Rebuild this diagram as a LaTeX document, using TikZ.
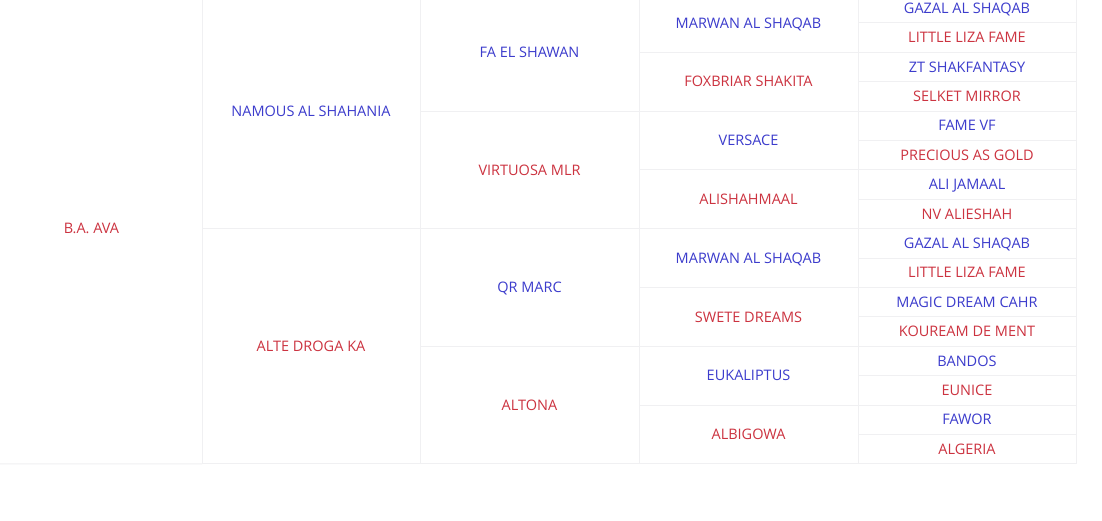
\documentclass[tikz,border=0pt]{standalone}
\usepackage{fontspec}
\setmainfont{Open Sans}
\definecolor{sire}{HTML}{3C3CCC}
\definecolor{dam}{HTML}{CC3340}
\definecolor{gridline}{HTML}{F0F0F2}
\begin{document}
\begin{tikzpicture}[x=1pt,y=-1pt,
  cell/.style={draw=gridline,line width=1pt,rectangle,inner sep=0pt,outer sep=0pt,
    font=\fontsize{14.5}{17}\selectfont,text height=10.4pt,text depth=0pt,anchor=north west},
  c2/.style={cell,minimum width=218pt,minimum height=235.2pt},
  c3/.style={cell,minimum width=219pt,minimum height=117.6pt},
  c4/.style={cell,minimum width=219pt,minimum height=58.8pt},
  c5/.style={cell,minimum width=218pt,minimum height=29.4pt},
  m/.style={text=sire},
  f/.style={text=dam}]
\useasboundingbox[fill=white] (0,0) rectangle (1102,520);
\clip (0,0) rectangle (1102,520);
\begin{scope}[yshift=-0.8pt]
% generation 1
\node[cell,draw=none,minimum width=183pt,minimum height=470.4pt,f] (g1) at (0,-7.4) {B.A. AVA};
\coordinate (g1bl) at (0,463);
% generation 2
\node[c2,m] (g2a) at (202,-7.4) {NAMOUS AL SHAHANIA};
\node[c2,f] (g2b) at (202,227.8) {ALTE DROGA KA};
\draw[gridline,line width=1pt] (g1bl) -- (g2b.south west);
% generation 3
\node[c3,m] (g3a) at (420,-7.4) {FA EL SHAWAN};
\node[c3,f] (g3b) at (420,110.2) {VIRTUOSA MLR};
\node[c3,m] (g3c) at (420,227.8) {QR MARC};
\node[c3,f] (g3d) at (420,345.4) {ALTONA};
% generation 4
\node[c4,m] (g4a) at (639,-7.4) {MARWAN AL SHAQAB};
\node[c4,f] (g4b) at (639,51.4) {FOXBRIAR SHAKITA};
\node[c4,m] (g4c) at (639,110.2) {VERSACE};
\node[c4,f] (g4d) at (639,169.0) {ALISHAHMAAL};
\node[c4,m] (g4e) at (639,227.8) {MARWAN AL SHAQAB};
\node[c4,f] (g4f) at (639,286.6) {SWETE DREAMS};
\node[c4,m] (g4g) at (639,345.4) {EUKALIPTUS};
\node[c4,f] (g4h) at (639,404.2) {ALBIGOWA};
% generation 5
\node[c5,m] (g5a) at (858,-7.4) {GAZAL AL SHAQAB};
\node[c5,f] (g5b) at (858,22.0) {LITTLE LIZA FAME};
\node[c5,m] (g5c) at (858,51.4) {ZT SHAKFANTASY};
\node[c5,f] (g5d) at (858,80.8) {SELKET MIRROR};
\node[c5,m] (g5e) at (858,110.2) {FAME VF};
\node[c5,f] (g5f) at (858,139.6) {PRECIOUS AS GOLD};
\node[c5,m] (g5g) at (858,169.0) {ALI JAMAAL};
\node[c5,f] (g5h) at (858,198.4) {NV ALIESHAH};
\node[c5,m] (g5i) at (858,227.8) {GAZAL AL SHAQAB};
\node[c5,f] (g5j) at (858,257.2) {LITTLE LIZA FAME};
\node[c5,m] (g5k) at (858,286.6) {MAGIC DREAM CAHR};
\node[c5,f] (g5l) at (858,316.0) {KOUREAM DE MENT};
\node[c5,m] (g5m) at (858,345.4) {BANDOS};
\node[c5,f] (g5n) at (858,374.8) {EUNICE};
\node[c5,m] (g5o) at (858,404.2) {FAWOR};
\node[c5,f] (g5p) at (858,433.6) {ALGERIA};
\end{scope}
\end{tikzpicture}
\end{document}
